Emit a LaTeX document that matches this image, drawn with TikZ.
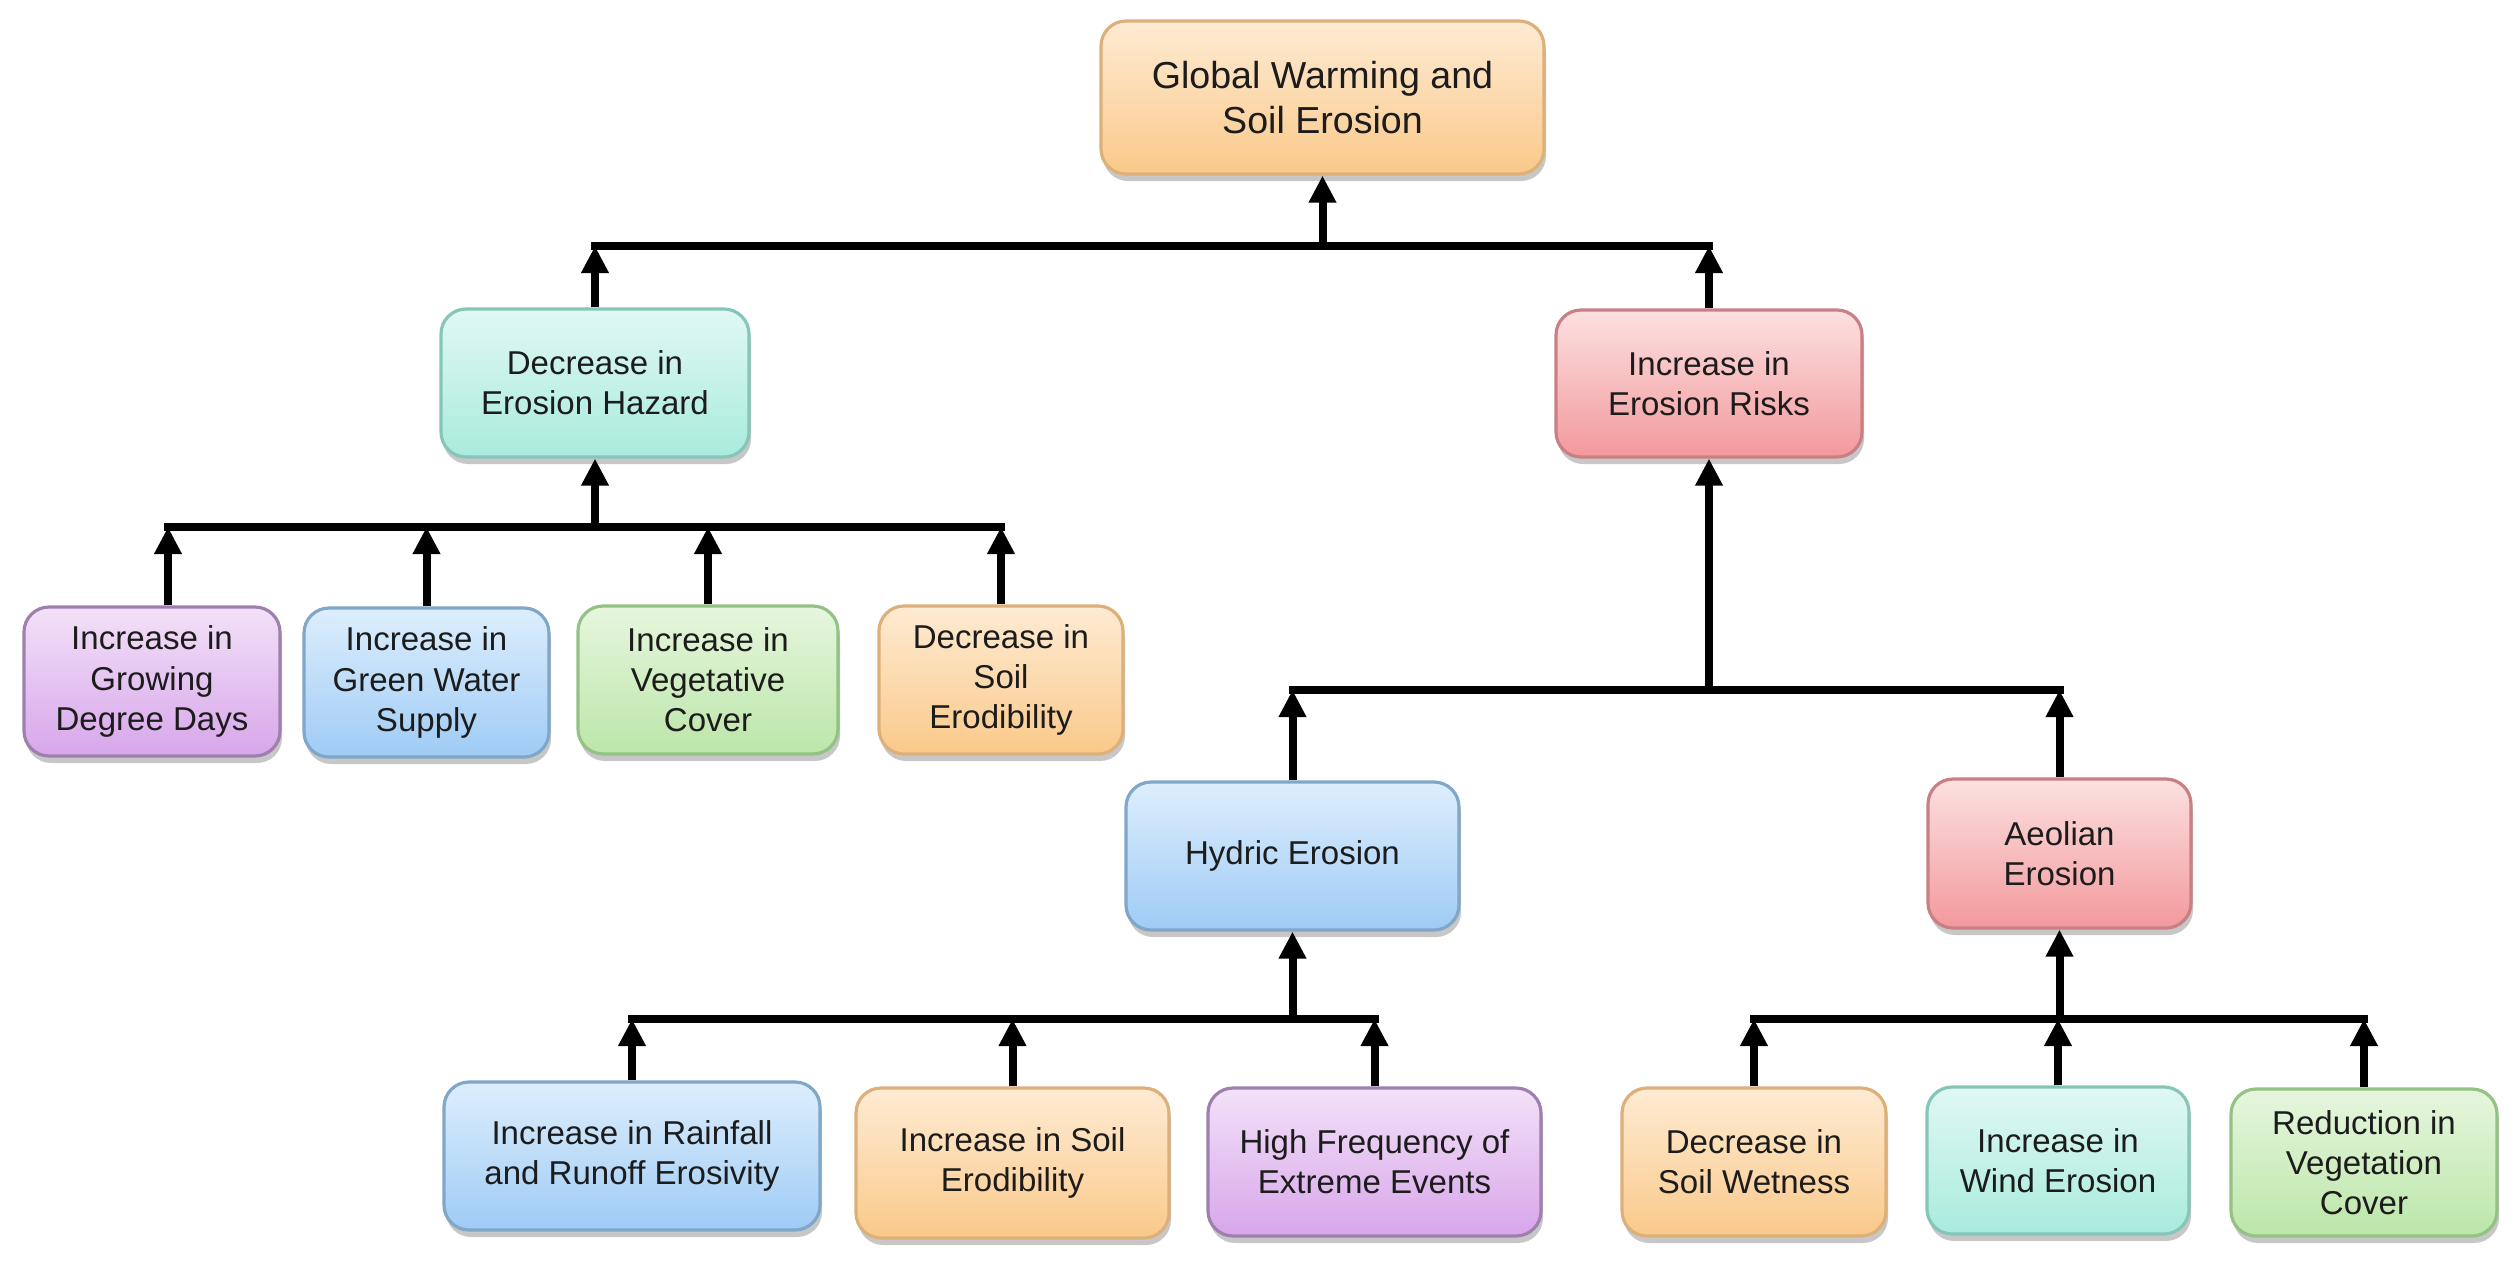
\documentclass[tikz,border=0pt]{standalone}
\usepackage{fontspec}
\setmainfont{Liberation Sans}
\usetikzlibrary{arrows.meta,shadows}
\definecolor{txt}{HTML}{1C1C1C}
\definecolor{orT}{HTML}{FEEBD3}\definecolor{orB}{HTML}{FAC98A}\definecolor{orD}{HTML}{DDB07A}
\definecolor{tlT}{HTML}{E0F8F3}\definecolor{tlB}{HTML}{A9EBDD}\definecolor{tlD}{HTML}{86C6B8}
\definecolor{rdT}{HTML}{FCE0E0}\definecolor{rdB}{HTML}{F3999C}\definecolor{rdD}{HTML}{C98084}
\definecolor{puT}{HTML}{F3E1F8}\definecolor{puB}{HTML}{D7A6EA}\definecolor{puD}{HTML}{9E80AE}
\definecolor{blT}{HTML}{DDEEFD}\definecolor{blB}{HTML}{9FCBF5}\definecolor{blD}{HTML}{80A6C8}
\definecolor{grT}{HTML}{E6F6DE}\definecolor{grB}{HTML}{BCE6A9}\definecolor{grD}{HTML}{93C284}
\tikzset{
  box/.style={rectangle, rounded corners=0.25cm, line width=0.9pt, align=center,
    inner sep=0pt, text=txt, font=\fontsize{9.4}{11.4}\selectfont,
    drop shadow={shadow xshift=0.02cm, shadow yshift=-0.07cm, fill=black, opacity=0.22}},
  orbox/.style={box, top color=orT, bottom color=orB, draw=orD},
  tlbox/.style={box, top color=tlT, bottom color=tlB, draw=tlD},
  rdbox/.style={box, top color=rdT, bottom color=rdB, draw=rdD},
  pubox/.style={box, top color=puT, bottom color=puB, draw=puD},
  blbox/.style={box, top color=blT, bottom color=blB, draw=blD},
  grbox/.style={box, top color=grT, bottom color=grB, draw=grD},
  sz/.style 2 args={minimum width=#1cm, minimum height=#2cm},
  bus/.style={line width=0.08cm, line cap=rect},
  arr/.style={line width=0.08cm, -{Triangle[length=0.27cm, width=0.26cm]}}
}
\begin{document}
\begin{tikzpicture}
\useasboundingbox (0,0) rectangle (25.14,-12.64);
\fill[white] (0,0) rectangle (25.14,-12.64);

% nodes
\node[orbox, sz={4.43}{1.53}, font=\fontsize{10.7}{12.8}\selectfont] (gw) at (13.225,-0.975) {Global Warming and\\Soil Erosion};
\node[tlbox, sz={3.08}{1.48}] (deh) at (5.95,-3.83) {Decrease in\\Erosion Hazard};
\node[rdbox, sz={3.06}{1.47}] (ier) at (17.09,-3.835) {Increase in\\Erosion Risks};

\node[pubox, sz={2.56}{1.49}] (c1) at (1.52,-6.815) {Increase in\\Growing\\Degree Days};
\node[blbox, sz={2.45}{1.49}] (c2) at (4.265,-6.825) {Increase in\\Green Water\\Supply};
\node[grbox, sz={2.60}{1.48}] (c3) at (7.08,-6.80) {Increase in\\Vegetative\\Cover};
\node[orbox, sz={2.44}{1.48}] (c4) at (10.01,-6.80) {Decrease in\\Soil\\Erodibility};

\node[blbox, sz={3.33}{1.48}] (hyd) at (12.925,-8.56) {Hydric Erosion};
\node[rdbox, sz={2.63}{1.49}] (aeo) at (20.595,-8.535) {Aeolian\\Erosion};

\node[blbox, sz={3.76}{1.48}] (h1) at (6.32,-11.56) {Increase in Rainfall\\and Runoff Erosivity};
\node[orbox, sz={3.13}{1.50}] (h2) at (10.125,-11.63) {Increase in Soil\\Erodibility};
\node[pubox, sz={3.33}{1.48}] (h3) at (13.745,-11.62) {High Frequency of\\Extreme Events};
\node[orbox, sz={2.64}{1.48}] (a1) at (17.54,-11.62) {Decrease in\\Soil Wetness};
\node[tlbox, sz={2.62}{1.47}] (a2) at (20.58,-11.605) {Increase in\\Wind Erosion};
\node[grbox, sz={2.66}{1.47}] (a3) at (23.64,-11.625) {Reduction in\\Vegetation\\Cover};

% bus coordinates
\coordinate (b0) at (13.225,-2.46);
\coordinate (b1) at (5.95,-5.27);
\coordinate (b2) at (17.09,-6.90);
\coordinate (b3) at (12.925,-10.19);
\coordinate (b4) at (20.595,-10.19);
\coordinate (p1) at ([xshift=0.16cm]c1.north);

% level 1
\draw[bus] (deh.north |- b0) -- (ier.north |- b0);
\draw[arr] (gw.south |- b0) -- (gw.south);
\draw[arr] (deh.north) -- (deh.north |- b0);
\draw[arr] (ier.north) -- (ier.north |- b0);

% decrease branch
\draw[bus] (p1 |- b1) -- (c4.north |- b1);
\draw[arr] (deh.south |- b1) -- (deh.south);
\draw[arr] (p1) -- (p1 |- b1);
\draw[arr] (c2.north) -- (c2.north |- b1);
\draw[arr] (c3.north) -- (c3.north |- b1);
\draw[arr] (c4.north) -- (c4.north |- b1);

% increase branch
\draw[bus] (hyd.north |- b2) -- (aeo.north |- b2);
\draw[arr] (ier.south |- b2) -- (ier.south);
\draw[arr] (hyd.north) -- (hyd.north |- b2);
\draw[arr] (aeo.north) -- (aeo.north |- b2);

% hydric
\draw[bus] (h1.north |- b3) -- (h3.north |- b3);
\draw[arr] (hyd.south |- b3) -- (hyd.south);
\draw[arr] (h1.north) -- (h1.north |- b3);
\draw[arr] (h2.north) -- (h2.north |- b3);
\draw[arr] (h3.north) -- (h3.north |- b3);

% aeolian
\draw[bus] (a1.north |- b4) -- (a3.north |- b4);
\draw[arr] (aeo.south |- b4) -- (aeo.south);
\draw[arr] (a1.north) -- (a1.north |- b4);
\draw[arr] (a2.north) -- (a2.north |- b4);
\draw[arr] (a3.north) -- (a3.north |- b4);
\end{tikzpicture}
\end{document}
